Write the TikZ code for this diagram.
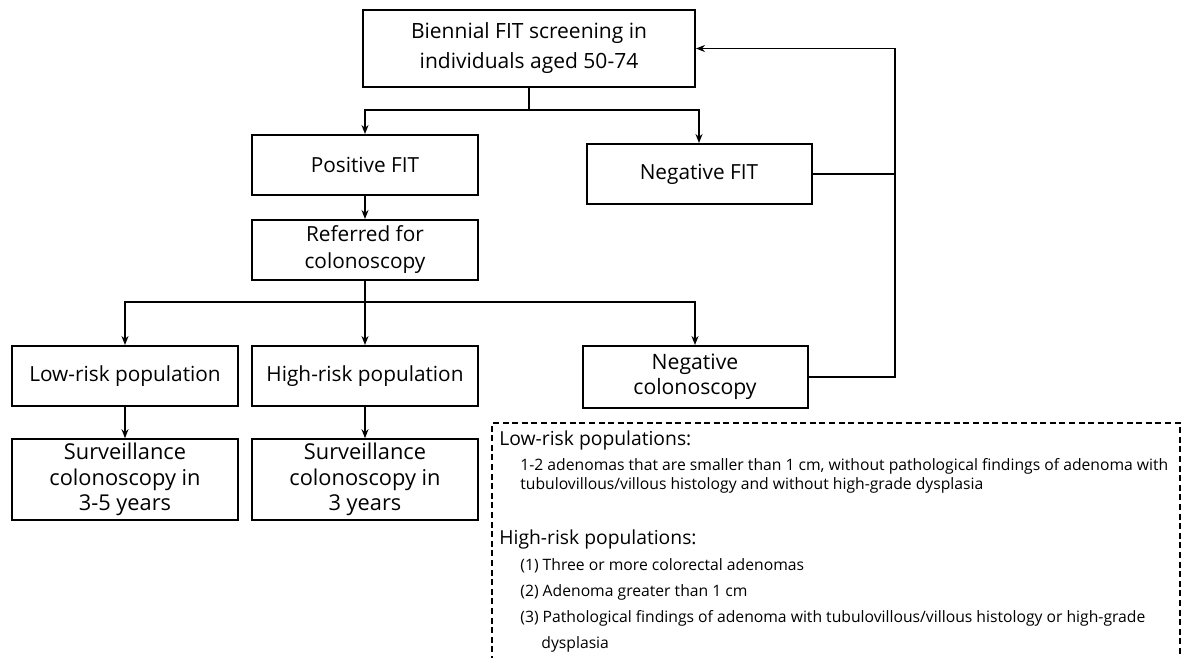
\documentclass[tikz,border=0pt]{standalone}
\usepackage{fontspec}
\setmainfont{Open Sans}
\usetikzlibrary{arrows.meta}

\begin{document}
\begin{tikzpicture}[x=0.5pt,y=-0.5pt,
box/.style={draw,line width=1pt,align=center,inner sep=2pt,
  font=\fontsize{10.4}{13.5}\selectfont,minimum width=113pt,minimum height=30pt},
arr/.style={line width=0.8pt,-{Stealth[length=4.5pt,width=3.5pt]}},
line/.style={line width=0.8pt},
note/.style={anchor=west,align=left,inner sep=0pt,font=\fontsize{7.85}{9.6}\selectfont},
notehead/.style={anchor=west,inner sep=0pt,font=\fontsize{9.65}{11}\selectfont}
]
\useasboundingbox (0,0) rectangle (1184,658);

\node[box,minimum width=166pt,minimum height=38.5pt,font=\fontsize{10.5}{15}\selectfont] (screen) at (529,48.5) {Biennial FIT screening in\\individuals aged 50-74};
\node[box] (posfit) at (365,165) {Positive FIT};
\node[box,minimum width=112.5pt] (negfit) at (699,174) {Negative FIT};
\node[box] (refer) at (365,250) {Referred for\\colonoscopy};
\node[box] (lowrisk) at (125,376) {Low-risk population};
\node[box] (highrisk) at (365,376) {High-risk population};
\node[box,minimum width=112.5pt,minimum height=31pt,font=\fontsize{10.6}{12.5}\selectfont] (negcol) at (695,377) {Negative\\colonoscopy};
\node[box,minimum height=36.5pt,font=\fontsize{10.9}{12.7}\selectfont] (survlow) at (125,479.5) {Surveillance\\colonoscopy in\\3-5 years};
\node[box,minimum height=36.5pt,font=\fontsize{10.9}{12.7}\selectfont] (survhigh) at (365,479.5) {Surveillance\\colonoscopy in\\3 years};

\coordinate (split1) at (529,110);
\coordinate (split2) at (365,302);
\coordinate (back) at (895,0);

\draw[line] (screen.south) -- (split1);
\draw[arr] (split1) -| (posfit.north);
\draw[arr] (split1) -| (negfit.north);
\draw[arr] (posfit.south) -- (refer.north);
\draw[line] (refer.south) -- (split2);
\draw[arr] (split2) -| (lowrisk.north);
\draw[arr] (split2) -- (split2 |- highrisk.north);
\draw[arr] (split2) -| (negcol.north);
\draw[arr] (lowrisk.south) -- (survlow.north);
\draw[arr] (highrisk.south) -- (survhigh.north);
\draw[line] (negfit.east) -- (negfit.east -| back);
\draw[arr] (negcol.east) -- (negcol.east -| back) |- (screen.east);

% criteria
\draw[line width=1pt,dash pattern=on 3pt off 1.8pt] (492,662) -- (492,423) -- (1180,423) -- (1180,662);
\node[notehead] (lowhead) at (499,440) {Low-risk populations:};
\node[note] (lowtext) at (520,476) {1-2 adenomas that are smaller than 1 cm, without pathological findings of adenoma with\\tubulovillous/villous histology and without high-grade dysplasia};
\node[notehead] (highhead) at (499,539) {High-risk populations:};
\node[note] (high1) at (520,566) {(1) Three or more colorectal adenomas};
\node[note] (high2) at (520,592) {(2) Adenoma greater than 1 cm};
\node[note] (high3) at (520,618) {(3) Pathological findings of adenoma with tubulovillous/villous histology or high-grade};
\node[note] (high4) at (541,644) {dysplasia};
\end{tikzpicture}
\end{document}
